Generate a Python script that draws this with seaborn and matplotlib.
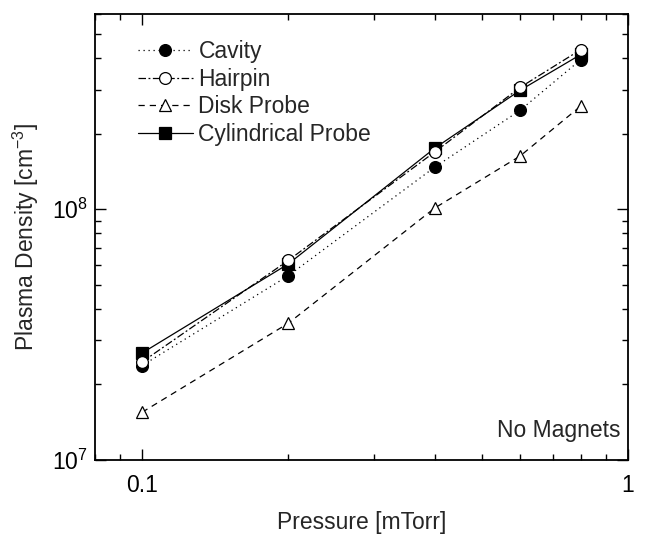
import numpy as np
import pandas as pd
import matplotlib
matplotlib.use("Agg")
import matplotlib.pyplot as plt
from matplotlib.ticker import LogLocator, FixedLocator, FixedFormatter, NullFormatter
import seaborn as sns

# Measured plasma density vs. pressure for four diagnostics
pressure = [0.1, 0.2, 0.4, 0.6, 0.8]
cavity = [2.38e7, 5.43e7, 1.47e8, 2.48e8, 3.95e8]
hairpin = [2.46e7, 6.25e7, 1.69e8, 3.06e8, 4.33e8]
disk_probe = [1.55e7, 3.51e7, 1.01e8, 1.63e8, 2.58e8]
cylindrical_probe = [2.67e7, 6.05e7, 1.75e8, 2.98e8, 4.14e8]

series_names = ["Cavity", "Hairpin", "Disk Probe", "Cylindrical Probe"]
series_values = [cavity, hairpin, disk_probe, cylindrical_probe]

x_tick_values = [0.1, 1]
x_tick_labels = ["0.1", "1"]

df = pd.DataFrame({
    "Pressure": np.tile(pressure, len(series_names)),
    "Density": np.concatenate(series_values),
    "Method": np.repeat(series_names, len(pressure)),
})

sns.set_style("ticks")
plt.rcParams["font.family"] = ["Liberation Sans", "DejaVu Sans"]
plt.rcParams["mathtext.default"] = "regular"

FS = 16.5
W, H = 653, 535
L, R, T, B = 95, 628, 14, 460

fig = plt.figure(figsize=(W / 100, H / 100), dpi=100)
ax = fig.add_axes([L / W, 1 - B / H, (R - L) / W, (B - T) / H])

styles = {
    "Cavity": dict(linestyle=(0, (1, 3)), marker="o", markerfacecolor="black", zorder=3),
    "Hairpin": dict(linestyle=(0, (6, 2, 1.5, 2)), marker="o", markerfacecolor="white", zorder=5),
    "Disk Probe": dict(linestyle=(0, (5, 4)), marker="^", markerfacecolor="white", zorder=3),
    "Cylindrical Probe": dict(linestyle="-", marker="s", markerfacecolor="black", zorder=4),
}

for name in series_names:
    st = styles[name]
    sns.lineplot(
        data=df[df["Method"] == name], x="Pressure", y="Density", ax=ax,
        color="black", linewidth=0.9, linestyle=st["linestyle"],
        marker=st["marker"], markersize=8.5, markerfacecolor=st["markerfacecolor"],
        markeredgecolor="black", markeredgewidth=0.9, zorder=st["zorder"],
        label=name, errorbar=None,
    )

ax.set_xscale("log")
ax.set_yscale("log")
ax.set_xlim(0.08, 1)
ax.set_ylim(1e7, 6e8)

ax.xaxis.set_major_locator(FixedLocator(x_tick_values))
ax.xaxis.set_major_formatter(FixedFormatter(x_tick_labels))
ax.xaxis.set_minor_locator(LogLocator(base=10, subs=np.arange(2, 10) * 1.0))
ax.xaxis.set_minor_formatter(NullFormatter())
ax.yaxis.set_major_locator(LogLocator(base=10, numticks=10))
ax.yaxis.set_minor_locator(LogLocator(base=10, subs=np.arange(2, 10) * 1.0, numticks=20))
ax.yaxis.set_minor_formatter(NullFormatter())

ax.tick_params(which="both", direction="in", top=True, right=True, colors="black",
               width=1.0, labelsize=FS)
ax.tick_params(which="major", length=8)
ax.tick_params(which="minor", length=4.5)
ax.tick_params(axis="x", which="major", pad=10)
ax.tick_params(axis="y", which="major", pad=5)
for sp in ax.spines.values():
    sp.set_linewidth(1.3)
    sp.set_color("black")

ax.set_xlabel("Pressure [mTorr]", fontsize=FS, labelpad=10)
ax.set_ylabel("Plasma Density [cm$^{-3}$]", fontsize=FS, labelpad=8)

ax.text(0.985, 0.067, "No Magnets", transform=ax.transAxes, ha="right", va="center",
        fontsize=FS)

leg = ax.legend(loc="upper left", bbox_to_anchor=(0.063, 0.962), frameon=False,
                fontsize=FS, handlelength=2.4, handletextpad=0.25, labelspacing=0.2,
                borderaxespad=0)

fig.savefig("out.png", dpi=100)
